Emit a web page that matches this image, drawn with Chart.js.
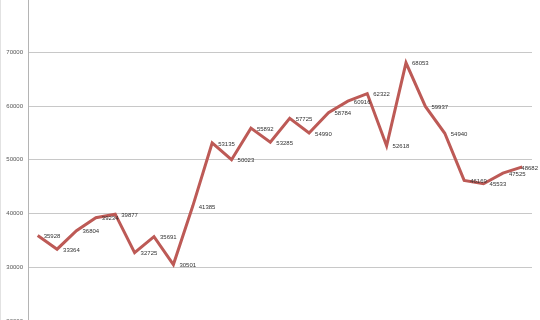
<!DOCTYPE html>
<html>
<head>
<meta charset="utf-8">
<script src="https://cdn.jsdelivr.net/npm/chart.js@4.4.0/dist/chart.umd.min.js"></script>
<style>
  html, body { margin: 0; padding: 0; background: #fff; }
  #wrap { position: relative; width: 540px; height: 320px; overflow: hidden; }
  #wrap canvas { position: absolute; left: 0; top: -10px; }
  #edge { position: absolute; left: 0; top: 0; width: 1px; height: 320px; background: #e2e2e2; }
</style>
</head>
<body>
<div id="wrap">
  <canvas id="myChart" width="540" height="340"></canvas>
  <div id="edge"></div>
</div>
<script>
// values, left to right
let labels = [];
for (let i = 1; i <= 26; i++) labels.push(String(i));
let values = [35928, 33364, 36804, 39234, 39877, 32725, 35691, 30501, 41385, 53135,
              50023, 55892, 53285, 57725, 54990, 58784, 60916, 62322, 52618, 68053,
              59937, 54940, 46169, 45533, 47525, 48682];
let yTicks = [20000, 30000, 40000, 50000, 60000, 70000, 80000];

// small number next to each point, like the excel data labels
const pointLabels = {
  id: 'pointLabels',
  afterDatasetsDraw(chart) {
    const c = chart.ctx;
    const meta = chart.getDatasetMeta(0);
    c.save();
    c.font = '6px "Liberation Sans", sans-serif';
    c.fillStyle = '#333';
    c.textAlign = 'left';
    c.textBaseline = 'middle';
    meta.data.forEach((pt, i) => {
      let txt = String(values[i]);
      let w = c.measureText(txt).width;
      // keep the last one inside the picture
      let x = Math.min(pt.x + 6, chart.width - w - 2);
      c.fillText(txt, x, pt.y + 1);
    });
    c.restore();
  }
};

let ctx = document.getElementById('myChart').getContext('2d');
let chart = new Chart(ctx, {
  type: 'line',
  data: {
    labels: labels,
    datasets: [{
      data: values,
      borderColor: '#bd5a56',
      borderWidth: 3,
      pointRadius: 0,
      tension: 0,
      fill: false
    }]
  },
  options: {
    responsive: false,
    animation: false,
    layout: { padding: { top: 7, bottom: 9, left: 0, right: 8 } },
    plugins: { legend: { display: false }, tooltip: { enabled: false } },
    scales: {
      x: {
        type: 'category',
        offset: true,
        display: false
      },
      y: {
        min: yTicks[0],
        max: yTicks[yTicks.length - 1],
        afterFit: scale => { scale.width = 28; },
        afterBuildTicks: scale => { scale.ticks = yTicks.map(v => ({ value: v })); },
        ticks: {
          padding: 5,
          color: '#555',
          font: { size: 6, family: '"Liberation Sans", sans-serif' },
          callback: v => String(v)
        },
        grid: { color: '#c8c8c8', lineWidth: 1, drawTicks: false },
        border: { display: true, color: '#b4b4b4', width: 1 }
      }
    }
  },
  plugins: [pointLabels]
});
</script>
</body>
</html>
